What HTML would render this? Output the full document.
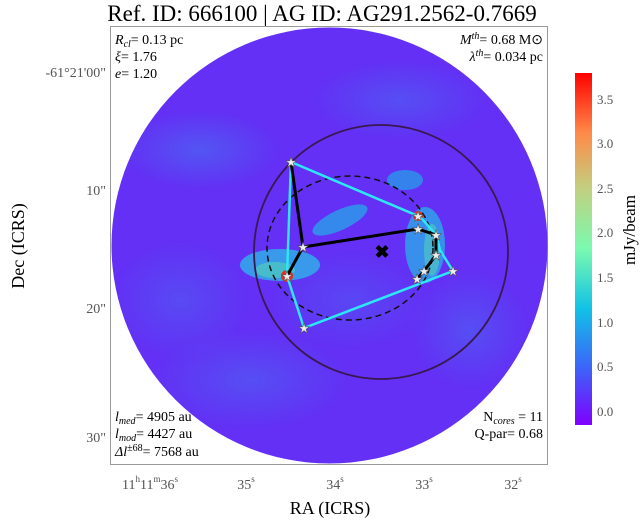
<!DOCTYPE html>
<html><head><meta charset="utf-8"><style>
body{margin:0;background:#fff;}
svg text{font-family:"Liberation Serif",serif;}
</style></head><body>
<svg width="644" height="520" xmlns="http://www.w3.org/2000/svg">
<defs>
<linearGradient id="cb" x1="0" y1="1" x2="0" y2="0">
<stop offset="0" stop-color="#7f00ff"/>
<stop offset="0.17" stop-color="#3a68f8"/>
<stop offset="0.33" stop-color="#12c1e6"/>
<stop offset="0.5" stop-color="#7afab0"/>
<stop offset="0.67" stop-color="#c1d080"/>
<stop offset="0.83" stop-color="#ff8a48"/>
<stop offset="1" stop-color="#ff0000"/>
</linearGradient>
<radialGradient id="blob"><stop offset="0" stop-color="#3a90f0"/><stop offset="1" stop-color="#3a90f0" stop-opacity="0"/></radialGradient>
<clipPath id="cc"><circle cx="329.5" cy="245.5" r="218"/></clipPath>
</defs>
<text x="322" y="21" font-size="23" text-anchor="middle">Ref. ID: 666100 | AG ID: AG291.2562-0.7669</text>
<rect x="110.5" y="26.5" width="437" height="438" fill="#fff" stroke="#999"/>
<circle cx="329.5" cy="245.5" r="218" fill="#6430f5"/>
<g clip-path="url(#cc)" opacity="0.8">
<ellipse cx="200" cy="150" rx="80" ry="40" fill="url(#blob)" opacity="0.5"/>
<ellipse cx="400" cy="100" rx="90" ry="40" fill="url(#blob)" opacity="0.4"/>
<ellipse cx="250" cy="380" rx="100" ry="50" fill="url(#blob)" opacity="0.4"/>
<ellipse cx="470" cy="330" rx="60" ry="60" fill="url(#blob)" opacity="0.4"/>
<ellipse cx="180" cy="300" rx="70" ry="60" fill="url(#blob)" opacity="0.35"/>
<ellipse cx="350" cy="300" rx="80" ry="50" fill="url(#blob)" opacity="0.3"/>
<ellipse cx="280" cy="265" rx="40" ry="16" fill="#2fb5e8"/>
<ellipse cx="275" cy="270" rx="20" ry="8" fill="#40e0c0"/>
<ellipse cx="340" cy="220" rx="30" ry="10" fill="#2aa0ea" transform="rotate(-25 340 220)"/>
<ellipse cx="425" cy="245" rx="20" ry="38" fill="#2fa8ea"/>
<ellipse cx="432" cy="250" rx="8" ry="26" fill="#40d8c8"/>
<ellipse cx="405" cy="180" rx="18" ry="10" fill="#2a98ea"/>
</g>
<circle cx="287" cy="276" r="6" fill="#e03020"/>
<circle cx="418" cy="216" r="5" fill="#e03020"/>
<circle cx="381" cy="252" r="127" fill="none" stroke="#3a1850" stroke-width="1.8"/>
<ellipse cx="350" cy="248" rx="83" ry="72" fill="none" stroke="#111" stroke-width="1.5" stroke-dasharray="6,4"/>
<g stroke="#2ee6f5" stroke-width="2.5" fill="none">
<polyline points="291,162 418,216 424,221 436,235 440,250 453,271 304,328 287,276 291,162"/>
</g>
<g stroke="#000" stroke-width="3" fill="none">
<polyline points="291,162 303,247 287,276"/>
<polyline points="303,247 418,229 436,235 436,255 424,271 417,279"/>
</g>
<text x="382" y="258" font-size="18" text-anchor="middle" font-weight="bold">✖</text>
<g fill="#eee" stroke="#555" stroke-width="0.6" font-size="14">
<text x="291" y="167" text-anchor="middle">★</text><text x="303" y="252" text-anchor="middle">★</text>
<text x="287" y="281" text-anchor="middle">★</text><text x="304" y="333" text-anchor="middle">★</text>
<text x="418" y="221" text-anchor="middle">★</text><text x="418" y="234" text-anchor="middle">★</text>
<text x="436" y="240" text-anchor="middle">★</text><text x="436" y="260" text-anchor="middle">★</text>
<text x="424" y="276" text-anchor="middle">★</text><text x="417" y="284" text-anchor="middle">★</text>
<text x="453" y="276" text-anchor="middle">★</text>
</g>
<g font-size="14">
<text x="115" y="44"><tspan font-style="italic">R</tspan><tspan font-size="10" font-style="italic" dy="3">cl</tspan><tspan dy="-3">= 0.13 pc</tspan></text>
<text x="115" y="61"><tspan font-style="italic">ξ</tspan>= 1.76</text>
<text x="115" y="78"><tspan font-style="italic">e</tspan>= 1.20</text>
<text x="543" y="44" text-anchor="end"><tspan font-style="italic">M</tspan><tspan font-size="10" font-style="italic" dy="-5">th</tspan><tspan dy="5">= 0.68 M</tspan><tspan>⊙</tspan></text>
<text x="543" y="61" text-anchor="end"><tspan font-style="italic">λ</tspan><tspan font-size="10" font-style="italic" dy="-5">th</tspan><tspan dy="5">= 0.034 pc</tspan></text>
<text x="115" y="421"><tspan font-style="italic">l</tspan><tspan font-size="10" font-style="italic" dy="3">med</tspan><tspan dy="-3">= 4905 au</tspan></text>
<text x="115" y="438"><tspan font-style="italic">l</tspan><tspan font-size="10" font-style="italic" dy="3">mod</tspan><tspan dy="-3">= 4427 au</tspan></text>
<text x="115" y="456"><tspan font-style="italic">Δl</tspan><tspan font-size="10" dy="-5">±68</tspan><tspan dy="5">= 7568 au</tspan></text>
<text x="543" y="421" text-anchor="end">N<tspan font-size="10" font-style="italic" dy="3">cores</tspan><tspan dy="-3"> = 11</tspan></text>
<text x="543" y="438" text-anchor="end">Q-par= 0.68</text>
</g>
<g font-size="14" fill="#555" text-anchor="end">
<text x="106" y="77">-61°21'00"</text>
<text x="106" y="195">10"</text>
<text x="106" y="313">20"</text>
<text x="106" y="442">30"</text>
</g>
<g font-size="14" fill="#555" text-anchor="middle">
<text x="150" y="489">11<tspan font-size="9" dy="-7">h</tspan><tspan dy="7">11</tspan><tspan font-size="9" dy="-7">m</tspan><tspan dy="7">36</tspan><tspan font-size="9" dy="-7">s</tspan></text>
<text x="246" y="489">35<tspan font-size="9" dy="-7">s</tspan></text>
<text x="335" y="489">34<tspan font-size="9" dy="-7">s</tspan></text>
<text x="424" y="489">33<tspan font-size="9" dy="-7">s</tspan></text>
<text x="513" y="489">32<tspan font-size="9" dy="-7">s</tspan></text>
</g>
<text x="330" y="514" font-size="18" text-anchor="middle">RA (ICRS)</text>
<text transform="translate(24 246) rotate(-90)" font-size="18" text-anchor="middle">Dec (ICRS)</text>
<rect x="575" y="73" width="17" height="352" fill="url(#cb)"/>
<g font-size="13" fill="#555">
<text x="597" y="416">0.0</text><text x="597" y="371">0.5</text><text x="597" y="327">1.0</text>
<text x="597" y="282">1.5</text><text x="597" y="237">2.0</text><text x="597" y="193">2.5</text>
<text x="597" y="148">3.0</text><text x="597" y="104">3.5</text>
</g>
<text transform="translate(635 230) rotate(-90)" font-size="17" text-anchor="middle">mJy/beam</text>
</svg>
</body></html>
